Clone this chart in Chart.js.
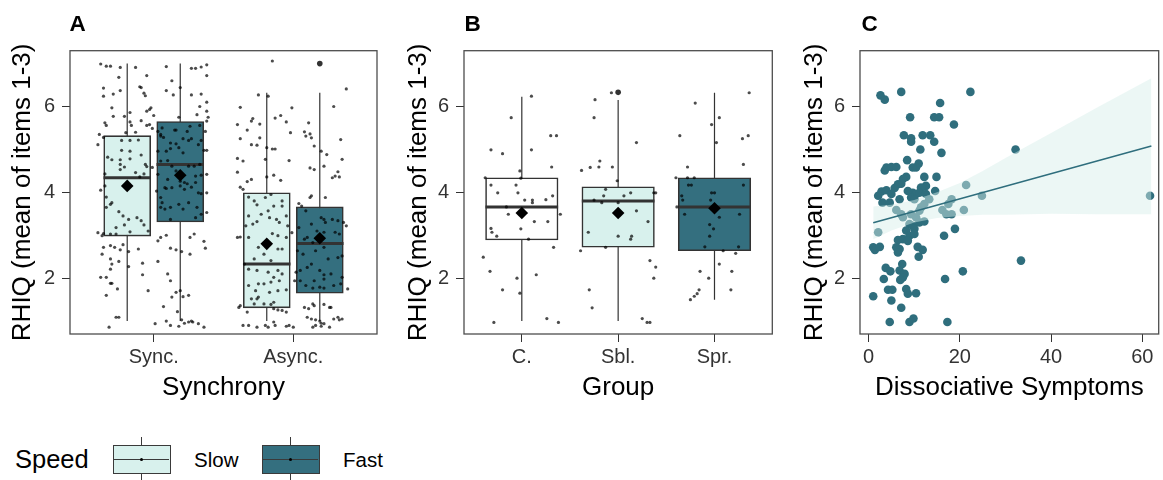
<!DOCTYPE html>
<html><head><meta charset="utf-8">
<script src="https://cdn.jsdelivr.net/npm/chart.js@4.4.0/dist/chart.umd.min.js"></script>
<style>
html,body{margin:0;padding:0;background:#fff;}
body{width:1163px;height:480px;position:relative;overflow:hidden;font-family:"Liberation Sans",Arial,Helvetica,sans-serif;color:#000;}
canvas{position:absolute;top:0;}
.letter{position:absolute;top:12.5px;font-weight:bold;font-size:22.5px;line-height:22.5px;}
.lg{position:absolute;white-space:nowrap;}
.key{position:absolute;top:444.7px;width:58.3px;height:29.3px;border:1.5px solid #3a3a3a;box-sizing:border-box;}
.vl{position:absolute;width:1px;background:#3a3a3a;}
.hl{position:absolute;height:1px;background:#3a3a3a;}
.dot{position:absolute;width:3px;height:3px;border-radius:50%;background:#000;}
</style></head>
<body>
<canvas id="cA" width="390" height="405" style="left:0px"></canvas>
<canvas id="cB" width="390" height="405" style="left:390px"></canvas>
<canvas id="cC" width="373" height="405" style="left:790px"></canvas>
<div class="letter" style="left:69.5px">A</div>
<div class="letter" style="left:464.5px">B</div>
<div class="letter" style="left:861.5px">C</div>
<div id="legend"></div>
<script>
// ---------------- DATA ----------------
const yTicks = [2, 4, 6];
const yTitle = 'RHIQ (mean of items 1-3)';

// Panel A : Synchrony x Speed
const synchrony = ['Sync.', 'Async.'];
const speeds = ['Slow', 'Fast'];
// order: Sync-Slow, Sync-Fast, Async-Slow, Async-Fast
const aWhiskerLow  = [1.0, 1.0, 1.0, 1.0];
const aQ1          = [2.98, 3.31, 1.31, 1.65];
const aMedian      = [4.34, 4.65, 2.33, 2.81];
const aQ3          = [5.32, 5.65, 3.99, 3.66];
const aWhiskerHigh = [7.0, 7.0, 6.32, 6.32];
const aMean        = [4.15, 4.40, 2.80, 2.93];
const aOutliers    = [[], [], [], [7.0]];

const syncPoints = [
[0.62,6.99],[0.66,6.94],[0.69,6.94],[0.76,6.91],[0.87,6.91],[0.75,6.68],[0.95,6.72],
[0.64,6.43],[0.64,6.24],[0.71,6.29],[0.76,6.37],[0.90,6.46],[0.91,6.44],[0.93,6.31],[0.94,6.25],[0.70,5.97],
[0.83,5.86],[0.95,5.89],[0.97,5.93],[0.98,5.97],[0.71,5.77],[0.79,5.77],[1.00,5.79],[0.65,5.62],[0.66,5.56],[0.83,5.64],[0.91,5.67],[0.84,5.56],[0.95,5.56],[0.97,5.58],[0.99,5.49],[0.87,5.40],[0.80,5.39],[0.61,5.35],
[0.60,5.11],[0.64,5.28],[0.77,5.21],[0.83,5.21],[0.89,5.22],[0.77,4.98],[0.83,4.96],[0.91,4.87],[0.67,4.82],[0.70,4.76],[0.76,4.76],[0.83,4.78],[0.94,4.65],[0.99,4.58],[0.76,4.65],[0.76,4.53],[0.79,4.59],[0.95,4.60],[0.65,4.43],[0.87,4.46],[0.93,4.43],[0.90,4.36],
[0.62,4.05],[0.65,4.15],[0.66,3.89],[0.69,3.72],[0.70,3.76],[0.66,3.65],[0.75,3.55],[0.78,3.45],[0.82,3.37],[0.88,3.41],[0.91,3.34],[0.93,3.24],[0.79,3.24],[0.73,3.18],[0.83,3.08],[0.64,3.04],[0.60,3.06],[0.63,2.99],[0.69,3.03],[0.73,3.03],[0.96,3.10],
[0.78,2.78],[0.76,2.66],[0.82,2.62],[0.64,2.72],[0.69,2.76],[0.72,2.72],[0.63,2.56],[0.69,2.45],[0.70,2.33],[0.75,2.39],[0.69,2.21],[0.82,2.27],[0.92,2.35],[0.66,2.02],[0.69,1.88],[0.70,1.88],[0.92,2.08],[0.89,2.68],
[0.96,1.71],[0.66,1.60],[0.73,1.09],[0.75,1.09],[0.68,0.86],[0.62,2.02],[0.74,1.75],
[1.09,6.93],[1.27,6.89],[1.30,6.89],[1.34,6.92],[1.38,6.97],[1.38,6.72],[1.13,6.60],
[1.09,6.37],[1.14,6.27],[1.19,6.44],[1.27,6.27],[1.34,6.29],[1.38,6.10],[1.33,6.00],
[1.18,5.75],[1.31,5.81],[1.38,5.89],[1.39,5.75],[1.03,5.42],[1.06,5.50],[1.16,5.45],[1.24,5.42],[1.26,5.54],[1.33,5.56],[1.38,5.66],[1.37,5.42],[1.34,5.21],[1.05,5.31],
[1.05,5.35],[1.07,5.28],[1.12,5.15],[1.15,5.45],[1.21,5.25],[1.25,5.21],[1.27,5.25],[1.32,5.11],[1.36,4.98],[1.38,4.98],[1.03,4.96],[1.09,4.96],[1.12,5.02],[1.16,5.13],[1.18,5.04],[1.21,4.92],[1.05,4.73],[1.10,4.74],[1.13,4.61],[1.16,4.50],[1.25,4.61],[1.29,4.61],[1.33,4.65],[1.03,4.42],[1.10,4.30],[1.19,4.26],[1.22,4.23],[1.30,4.38],[1.34,4.40],[1.38,4.42],[1.08,4.11],[1.13,4.11],[1.24,4.20],[1.30,4.23],
[1.02,4.03],[1.05,3.88],[1.06,3.76],[1.09,4.09],[1.19,4.15],[1.22,4.07],[1.27,4.12],[1.32,3.99],[1.34,3.97],[1.38,3.99],[1.05,3.65],[1.08,3.61],[1.12,3.65],[1.18,3.72],[1.21,3.61],[1.25,3.76],[1.31,3.65],[1.34,3.49],[1.38,3.53],[1.12,3.37],[1.30,3.41],
[1.03,2.87],[1.05,2.95],[1.09,3.00],[1.26,2.95],[1.29,3.03],[1.12,2.70],[1.16,2.66],[1.20,2.62],[1.26,2.56],[1.03,2.39],[1.37,2.70],[1.36,2.86],[1.10,2.10],[1.12,1.94],
[1.16,1.67],[1.19,1.71],[1.13,1.56],[1.21,1.57],[1.25,1.60],[1.07,1.34],[1.17,1.22],[1.01,0.94],[1.09,1.00],[1.12,0.90],[1.18,0.88],[1.22,0.95],[1.25,0.98],[1.28,0.98],[1.32,0.94],[1.36,0.86],[1.20,1.03],[1.27,1.00]
];

const asyncPoints = [
[1.85,7.06],[2.38,6.41],[1.75,6.27],[1.82,6.24],[1.62,5.98],[1.99,5.97],[2.29,6.00],[1.91,5.79],[1.87,5.73],[1.71,5.72],[1.70,5.66],[1.76,5.59],[1.60,5.58],[1.95,5.64],[2.11,5.62],[1.67,5.45],[1.98,5.39],[2.08,5.41],[2.12,5.36],[2.09,5.31],[2.13,5.27],[1.62,5.25],[1.76,5.27],[1.70,5.11],[1.74,5.10],[1.81,5.04],[1.85,5.01],[1.87,5.01],[2.15,5.08],[2.34,5.23],[1.60,4.79],[1.64,4.73],[1.80,4.77],[1.97,4.74],[2.20,4.96],[2.24,4.88],[2.35,4.77],[1.60,4.47],[2.12,4.57],[2.15,4.53],[2.22,4.61],[1.81,4.36],[1.86,4.40],[1.91,4.28],[1.67,4.25],[1.70,4.30],[1.62,4.12],[1.64,4.07],[2.28,4.34],[2.30,4.38],[2.33,4.36],[2.32,4.48],[2.12,3.88],[2.13,3.92],[2.23,3.88],[2.04,3.74],[2.06,3.68],
[1.68,3.89],[1.72,3.80],[1.74,3.71],[1.80,3.88],[1.84,3.95],[1.92,3.80],[1.86,3.68],[1.92,3.68],[1.82,3.57],[1.68,3.45],[1.77,3.49],[1.83,3.41],[1.88,3.37],[1.90,3.30],[1.95,3.45],[1.74,3.32],[1.71,3.26],[1.96,3.22],[1.66,3.22],[1.62,2.96],[1.68,2.95],[1.85,3.04],[1.89,2.99],[1.95,2.95],[1.75,2.72],[1.89,2.68],[1.92,2.68],[1.72,2.45],[1.79,2.56],[1.84,2.41],[1.65,2.33],[1.68,2.21],[1.74,2.18],[1.82,2.14],[1.89,2.18],[1.92,2.10],[1.86,2.02],[1.90,1.94],[1.75,1.87],[1.79,1.87],[1.84,1.91],[1.68,1.83],[1.95,1.73],[1.73,1.71],[1.83,1.67],[1.89,1.71],[1.70,1.52],[1.74,1.52],[1.72,1.40],[1.79,1.40],[1.84,1.39],[1.86,1.44],[1.75,1.56],
[1.60,2.95],[1.99,3.06],[2.01,1.94],[2.02,2.14],[1.62,1.36],[1.61,1.32],[1.67,1.21],[1.86,1.29],[1.89,1.26],[1.92,1.25],[1.95,1.21],[1.64,0.90],[1.68,0.90],[1.74,0.86],[1.80,0.90],[1.82,0.86],[1.86,0.98],[1.87,0.90],[1.95,0.88],[1.97,0.90],[2.00,0.86],
[2.09,3.57],[2.20,3.41],[2.22,3.37],[2.23,3.30],[2.28,3.37],[2.32,3.34],[2.36,3.30],[2.38,3.22],[2.04,3.18],[2.13,3.26],[2.17,3.10],[2.22,3.07],[2.30,3.07],[2.33,3.03],[2.08,2.91],[2.10,2.95],[2.14,2.83],[2.03,2.64],[2.07,2.56],[2.16,2.64],[2.22,2.72],[2.25,2.45],[2.32,2.48],[2.35,2.52],[2.05,2.18],[2.10,2.25],[2.13,2.33],[2.19,2.18],[2.22,2.08],[2.05,1.94],[2.15,1.94],[2.22,1.98],[2.27,2.10],[2.35,2.02],[2.09,1.83],[2.14,1.77],[2.19,1.79],[2.22,1.77],[2.29,1.83],[2.34,1.87],[2.39,1.75],
[2.08,1.32],[2.11,1.29],[2.14,1.40],[2.15,1.36],[2.22,1.39],[2.26,1.32],[2.27,1.32],[2.10,1.09],[2.13,1.05],[2.16,1.03],[2.19,1.00],[2.20,0.95],[2.22,0.94],[2.26,0.86],[2.29,1.05],[2.32,1.09],[2.33,1.03],[2.35,1.05],[2.16,0.90],[2.20,0.88],[2.14,0.86]
];

// Panel B : Group
const groups = ['C.', 'Sbl.', 'Spr.'];
const bWhiskerLow  = [1.0, 1.0, 1.5];
const bQ1          = [2.89, 2.72, 2.64];
const bMedian      = [3.66, 3.80, 3.66];
const bQ3          = [4.34, 4.13, 4.34];
const bWhiskerHigh = [6.23, 6.15, 6.32];
const bMean        = [3.52, 3.52, 3.63];
const bOutliers    = [[], [6.33], []];
const groupPoints = [
[1.10,6.24],[0.89,5.74],[0.68,4.99],[0.80,4.90],[1.10,4.99],[1.30,5.32],[1.36,5.32],[1.31,4.59],[0.98,4.50],[0.62,4.34],[0.99,4.33],[0.68,4.17],[0.94,4.17],[0.75,3.99],[0.96,3.99],[1.32,3.92],[1.03,3.82],[1.11,3.82],[1.25,3.83],[1.11,3.76],[0.84,3.66],[1.40,3.49],[0.86,3.49],[1.13,3.32],[1.27,3.32],[0.68,3.16],[0.69,3.07],[0.99,3.15],[0.74,2.98],[1.07,2.91],[1.33,2.72],[0.60,2.49],[0.67,2.16],[1.15,2.08],[0.95,2.00],[0.80,1.73],[0.98,1.65],[1.26,1.06],[1.38,0.97],[0.71,0.97],
[1.76,6.16],[1.93,6.32],[1.75,5.74],[2.19,5.16],[1.62,4.51],[1.71,4.58],[1.81,4.73],[1.80,4.59],[1.94,4.59],[1.99,4.27],[2.13,3.99],[1.87,4.07],[2.06,3.92],[1.85,3.92],[1.75,3.82],[1.83,3.76],[2.00,3.76],[2.37,3.99],[2.39,3.99],[2.19,3.57],[2.31,3.32],[1.69,3.07],[2.00,2.98],[2.14,2.98],[2.13,2.91],[1.87,2.72],[1.61,2.64],[2.33,2.41],[2.39,2.26],[2.37,2.00],[1.70,1.73],[1.73,1.31],[2.25,1.06],[2.30,0.97],[2.33,0.97],
[2.80,6.08],[3.36,6.32],[3.05,5.74],[2.97,5.58],[2.64,5.32],[3.35,5.32],[3.29,5.25],[3.02,5.16],[3.30,4.65],[2.72,4.59],[2.60,4.34],[2.72,4.34],[2.79,4.34],[2.73,4.17],[2.76,4.17],[3.30,4.17],[2.97,3.99],[3.00,3.99],[2.66,3.92],[2.67,3.82],[2.96,3.82],[2.61,3.66],[2.69,3.49],[3.26,3.49],[3.05,3.42],[2.95,3.25],[2.99,3.15],[2.95,2.98],[2.90,2.73],[3.25,2.73],[3.09,2.64],[3.22,2.58],[3.05,2.33],[2.85,2.16],[3.18,2.16],[2.94,2.00],[3.17,1.73],[2.84,1.73],[2.82,1.64],[2.79,1.58],[2.75,1.50]
];

// Panel C : Dissociative Symptoms vs RHIQ
const cTicks = [0, 20, 40, 60];
const cPoints = [
[2.59,6.26],[3.53,6.16],[7.14,6.34],[22.31,6.34],[15.67,6.08],[9.09,5.75],[14.37,5.75],[15.45,5.75],[18.70,5.58],[7.72,5.33],[9.31,5.26],[11.84,5.33],[13.50,5.33],[14.37,5.18],[9.31,5.18],[11.33,5.00],[15.96,4.92],[32.21,5.00],[8.44,4.75],[10.97,4.67],[10.39,4.58],[9.67,4.58],[3.89,4.58],[3.53,4.51],[4.98,4.59],[6.06,4.59],[8.23,4.36],[7.51,4.31],[7.14,4.20],[6.42,4.19],[5.70,4.10],[12.20,4.36],[12.56,4.15],[14.87,4.36],[11.48,4.11],[9.67,3.99],[10.39,3.96],[11.12,3.99],[8.59,4.03],[9.31,3.88],[2.81,4.02],[3.89,4.05],[4.98,3.96],[2.09,3.92],[3.03,3.76],[4.62,3.76],[6.78,3.84],[10.03,3.84],[12.56,3.96],[14.58,4.03],[13.28,3.84],[12.20,3.73],[11.48,3.65],[11.12,3.57],[6.06,3.59],[7.14,3.49],[7.51,3.42],[9.31,3.49],[10.39,3.42],[8.95,3.26],[8.23,3.11],[9.67,3.22],[10.03,3.15],[11.12,3.30],[12.20,3.32],[8.95,2.99],[10.03,3.03],[7.51,2.91],[6.42,2.89],[8.59,2.87],[6.06,2.72],[6.78,2.68],[6.42,2.60],[1.00,2.72],[1.37,2.66],[2.45,2.73],[10.75,2.73],[11.84,2.66],[10.97,2.50],[16.53,2.99],[18.92,3.15],[20.87,3.59],[21.37,4.17],[24.84,3.92],[18.19,3.84],[16.17,3.59],[17.04,3.49],[18.19,3.49],[17.47,3.73],[2.09,3.07],[7.36,2.33],[3.75,2.24],[4.76,2.16],[6.78,2.18],[7.87,2.10],[7.51,2.02],[3.32,1.98],[6.93,1.96],[16.75,1.98],[20.65,2.16],[4.25,1.73],[5.19,1.73],[8.23,1.75],[8.59,1.64],[10.39,1.65],[1.00,1.58],[4.98,1.48],[7.14,1.31],[4.62,0.98],[8.95,0.98],[9.82,1.06],[17.26,0.98],[33.40,2.41],[61.70,3.92]
];
const fitX = [1, 62];
const fitY = [3.29, 5.08];
const bandX     = [1, 5, 10, 15, 20, 25, 30, 40, 50, 62];
const bandUpper = [3.67, 3.71, 3.82, 4.00, 4.22, 4.50, 4.80, 5.38, 5.97, 6.66];
const bandLower = [2.91, 3.11, 3.30, 3.40, 3.45, 3.48, 3.48, 3.50, 3.49, 3.49];

// ---------------- STYLE ----------------
const FAM = '"Liberation Sans", Arial, Helvetica, sans-serif';
Chart.defaults.font.family = FAM;
const SLOW = '#d8f1ed', FAST = '#346f7f', WHITE = '#ffffff';
const TEAL = '#2f6e7d';
const INK = '#333333';

const frame = {
  id: 'frame',
  afterDraw(chart) {
    const {ctx, chartArea: a} = chart;
    ctx.save();
    ctx.strokeStyle = '#4d4d4d';
    ctx.lineWidth = 1.3;
    ctx.strokeRect(a.left, a.top, a.right - a.left, a.bottom - a.top);
    ctx.restore();
  }
};

function yScale(padTop, width) {
  return {
    type: 'linear', min: 0.7, max: 7.3, offset: false, beginAtZero: false,
    afterBuildTicks: s => { s.ticks = yTicks.map(v => ({value: v})); },
    afterFit: s => { s.width = width; },
    grid: {display: true, offset: false, drawOnChartArea: false, drawTicks: true, tickLength: 8, color: INK, lineWidth: 1},
    border: {display: false},
    ticks: {font: {size: 20}, color: '#333', padding: 7},
    title: {display: true, text: yTitle, font: {size: 26}, color: '#000', padding: {top: padTop, bottom: 0}}
  };
}
function xScale(min, max, tickVals, labelFn, title) {
  return {
    type: 'linear', min: min, max: max, offset: false,
    afterBuildTicks: s => { s.ticks = tickVals.map(v => ({value: v})); },
    afterFit: s => { s.height = 71; },
    grid: {display: true, offset: false, drawOnChartArea: false, drawTicks: true, tickLength: 8, color: INK, lineWidth: 1},
    border: {display: false},
    ticks: {font: {size: 20}, color: '#333', padding: 3, autoSkip: false, maxRotation: 0, callback: labelFn},
    title: {display: true, text: title, font: {size: 26}, color: '#000', padding: {top: 0, bottom: 2}}
  };
}

function boxDatasets(xs, lo, q1, med, q3, hi, mean, outliers, fills, halfW, thickness) {
  const ds = [];
  xs.forEach((x, i) => ds.push({type: 'line', data: [{x: x, y: lo[i]}, {x: x, y: hi[i]}],
    borderColor: INK, borderWidth: 1.2, pointRadius: 0, order: 10}));
  ds.push({type: 'bar', data: xs.map((x, i) => ({x: x, y: [q1[i], q3[i]]})),
    backgroundColor: fills, borderColor: INK, borderWidth: 1.6, borderSkipped: false,
    barThickness: thickness, order: 9});
  xs.forEach((x, i) => ds.push({type: 'line', data: [{x: x - halfW, y: med[i]}, {x: x + halfW, y: med[i]}],
    borderColor: INK, borderWidth: 3, pointRadius: 0, borderCapStyle: 'butt', order: 8}));
  const outs = [];
  xs.forEach((x, i) => outliers[i].forEach(v => outs.push({x: x, y: v})));
  ds.push({type: 'scatter', data: outs, pointRadius: 2.8, backgroundColor: INK, borderWidth: 0, order: 6});
  ds.push({type: 'scatter', data: xs.map((x, i) => ({x: x, y: mean[i]})), pointStyle: 'rectRot',
    pointRadius: 6.3, backgroundColor: '#000', borderWidth: 0, order: 5});
  return ds;
}
function jitterDataset(pts) {
  return {type: 'scatter', data: pts.map(p => ({x: p[0], y: p[1]})), pointRadius: 1.6,
    backgroundColor: 'rgba(0,0,0,0.7)', borderWidth: 0, order: 7};
}
const baseOpts = (pad) => ({
  responsive: false, animation: false, events: [],
  layout: {padding: pad},
  plugins: {legend: {display: false}, tooltip: {enabled: false}}
});

// ---------------- PANEL A ----------------
const DODGE = 0.19;
const aX = [], aFill = [];
synchrony.forEach((s, ci) => speeds.forEach((sp, si) => {
  aX.push(ci + 1 + (si === 0 ? -DODGE : DODGE));
  aFill.push(si === 0 ? SLOW : FAST);
}));
new Chart(document.getElementById('cA'), {
  type: 'scatter',
  data: {datasets: [
    ...boxDatasets(aX, aWhiskerLow, aQ1, aMedian, aQ3, aWhiskerHigh, aMean, aOutliers, aFill, 0.17, 47),
    jitterDataset(syncPoints.concat(asyncPoints))
  ]},
  options: Object.assign(baseOpts({left: 0, top: 50.7, right: 13, bottom: 0}), {
    scales: {
      x: xScale(0.4, 2.6, synchrony.map((_, i) => i + 1), v => synchrony[Math.round(v) - 1], 'Synchrony'),
      y: yScale(7.5, 70)
    }
  }),
  plugins: [frame]
});

// ---------------- PANEL B ----------------
const bX = groups.map((g, i) => i + 1);
new Chart(document.getElementById('cB'), {
  type: 'scatter',
  data: {datasets: [
    ...boxDatasets(bX, bWhiskerLow, bQ1, bMedian, bQ3, bWhiskerHigh, bMean, bOutliers, [WHITE, SLOW, FAST], 0.377, 72.5),
    jitterDataset(groupPoints)
  ]},
  options: Object.assign(baseOpts({left: 0, top: 50.7, right: 7.7, bottom: 0}), {
    scales: {
      x: xScale(0.4, 3.6, bX, v => groups[Math.round(v) - 1], 'Group'),
      y: yScale(13, 74)
    }
  }),
  plugins: [frame]
});

// ---------------- PANEL C ----------------
new Chart(document.getElementById('cC'), {
  type: 'scatter',
  data: {datasets: [
    {type: 'line', data: fitX.map((x, i) => ({x: x, y: fitY[i]})), borderColor: TEAL, borderWidth: 1.5, pointRadius: 0, order: 1},
    {type: 'line', data: bandX.map((x, i) => ({x: x, y: bandUpper[i]})), borderColor: 'rgba(0,0,0,0)', borderWidth: 0,
      pointRadius: 0, fill: '+1', backgroundColor: 'rgba(214,238,234,0.47)', order: 2},
    {type: 'line', data: bandX.map((x, i) => ({x: x, y: bandLower[i]})), borderColor: 'rgba(0,0,0,0)', borderWidth: 0,
      pointRadius: 0, fill: false, order: 2},
    {type: 'scatter', data: cPoints.map(p => ({x: p[0], y: p[1]})), pointRadius: 4.3, backgroundColor: TEAL, borderWidth: 0, order: 3}
  ]},
  options: Object.assign(baseOpts({left: 0, top: 50.7, right: 0.7, bottom: 0}), {
    scales: {
      x: xScale(-1.9, 63.6, cTicks, v => String(v), 'Dissociative Symptoms'),
      y: yScale(9.5, 70)
    }
  }),
  plugins: [frame]
});

// ---------------- LEGEND ----------------
(function () {
  const lg = document.getElementById('legend');
  const fills = [SLOW, FAST];
  const keyLeft = [112.7, 261.7];
  const labLeft = [194, 343];
  let html = '<div class="lg" style="left:15px;top:447px;font-size:25.5px;line-height:25.5px">Speed</div>';
  speeds.forEach((sp, i) => {
    const l = keyLeft[i], cx = l + 29.15;
    html += '<div class="vl" style="left:' + (cx - 0.5) + 'px;top:436.7px;height:8px"></div>';
    html += '<div class="vl" style="left:' + (cx - 0.5) + 'px;top:474px;height:7px"></div>';
    html += '<div class="key" style="left:' + l + 'px;background:' + fills[i] + '"></div>';
    html += '<div class="hl" style="left:' + (l + 1.5) + 'px;top:458.5px;width:55.3px"></div>';
    html += '<div class="dot" style="left:' + (cx - 1.5) + 'px;top:457.5px"></div>';
    html += '<div class="lg" style="left:' + labLeft[i] + 'px;top:450px;font-size:20.5px;line-height:20.5px">' + sp + '</div>';
  });
  lg.innerHTML = html;
})();
</script>
</body></html>
